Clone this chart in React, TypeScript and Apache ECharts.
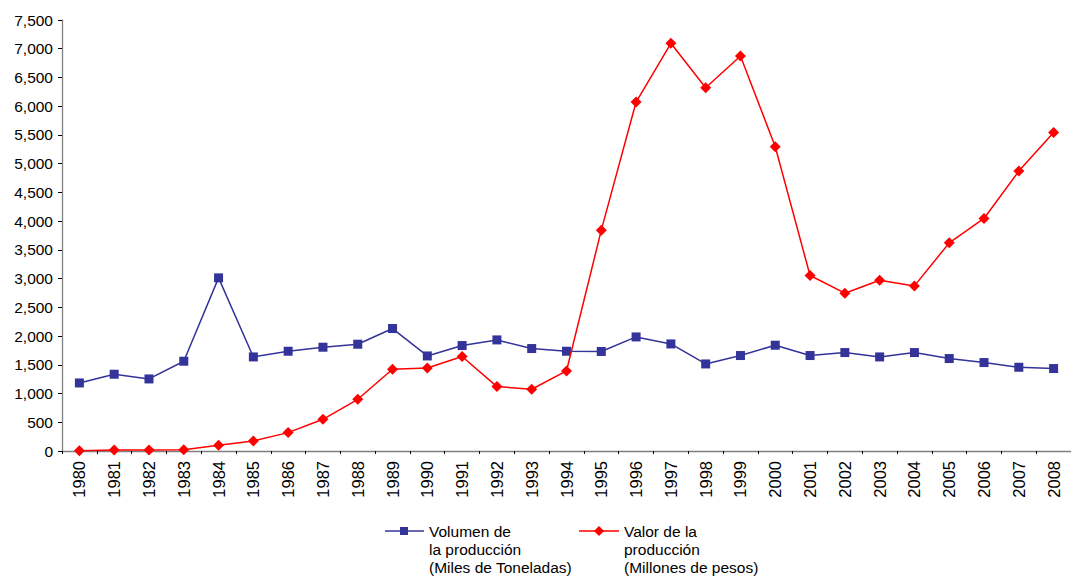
import React, { useEffect, useRef } from "react";
import * as echarts from "echarts";

const years = [
  "1980", "1981", "1982", "1983", "1984", "1985", "1986", "1987", "1988", "1989",
  "1990", "1991", "1992", "1993", "1994", "1995", "1996", "1997", "1998", "1999",
  "2000", "2001", "2002", "2003", "2004", "2005", "2006", "2007", "2008",
];

const volumen = [
  1184, 1336, 1254, 1562, 3013, 1637, 1736, 1806, 1858, 2131,
  1654, 1835, 1933, 1783, 1736, 1732, 1985, 1863, 1515, 1661,
  1841, 1661, 1713, 1637, 1713, 1609, 1539, 1457, 1435,
];

const valor = [
  5, 17, 18, 20, 99, 174, 320, 552, 900, 1423,
  1445, 1644, 1121, 1074, 1393, 3843, 6072, 7094, 6321, 6873,
  5294, 3054, 2746, 2972, 2873, 3622, 4047, 4871, 5544,
];

const volumenName = "Volumen de\nla producción\n(Miles de Toneladas)";
const valorName = "Valor de la\nproducción\n(Millones de pesos)";

const BLUE = "#333399";
const RED = "#FF0000";
const FONT = "Liberation Sans, Arial, sans-serif";

export default function App() {
  const ref = useRef<HTMLDivElement>(null);

  useEffect(() => {
    if (!ref.current) return;
    const chart = echarts.init(ref.current, null, { renderer: "svg" });
    const textStyle = { fill: "#000", font: `15.5px ${FONT}`, lineHeight: 18 };
    chart.setOption({
      animation: false,
      backgroundColor: "#fff",
      textStyle: { fontFamily: FONT },
      grid: { left: 62, top: 20, width: 1021, bottom: 127, containLabel: false },
      xAxis: {
        type: "category",
        data: years,
        boundaryGap: true,
        axisLine: { lineStyle: { color: "#808080", width: 1.3 } },
        axisTick: { show: true, length: 3, inside: false, lineStyle: { color: "#000" } },
        axisLabel: { rotate: 90, color: "#000", fontSize: 16.5, margin: 10, fontFamily: FONT },
        splitLine: { show: false },
      },
      yAxis: {
        type: "value",
        min: 0,
        max: 7500,
        interval: 500,
        axisLine: { show: true, lineStyle: { color: "#808080", width: 1.3 } },
        axisTick: { show: true, length: 4, lineStyle: { color: "#000" } },
        axisLabel: {
          color: "#000",
          fontSize: 15.5,
          margin: 9,
          fontFamily: FONT,
          formatter: (v: number) => v.toLocaleString("en-US"),
        },
        splitLine: { show: false },
      },
      series: [
        {
          name: volumenName,
          type: "line",
          data: volumen,
          symbol: "rect",
          symbolSize: 9,
          itemStyle: { color: BLUE },
          lineStyle: { color: BLUE, width: 1.5 },
          z: 2,
        },
        {
          name: valorName,
          type: "line",
          data: valor,
          symbol: "diamond",
          symbolSize: 11,
          itemStyle: { color: RED },
          lineStyle: { color: RED, width: 1.5 },
          z: 3,
        },
      ],
      graphic: [
        { type: "line", shape: { x1: 385, y1: 531, x2: 424, y2: 531 }, style: { stroke: BLUE, lineWidth: 1.5 } },
        { type: "rect", shape: { x: 400, y: 527, width: 8, height: 8 }, style: { fill: BLUE } },
        { type: "text", x: 429, y: 522, style: { ...textStyle, text: volumenName } },
        { type: "line", shape: { x1: 579, y1: 531, x2: 619, y2: 531 }, style: { stroke: RED, lineWidth: 1.5 } },
        { type: "polygon", shape: { points: [[599, 526], [604, 531], [599, 536], [594, 531]] }, style: { fill: RED } },
        { type: "text", x: 624, y: 522, style: { ...textStyle, text: valorName } },
      ],
    });
    return () => chart.dispose();
  }, []);

  return <div ref={ref} style={{ width: 1071, height: 578, position: "absolute", left: 0, top: 0 }} />;
}
